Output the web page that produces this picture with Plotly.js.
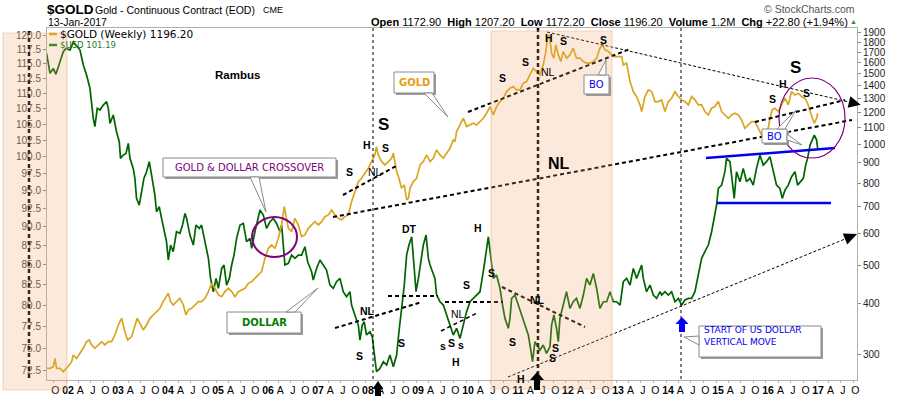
<!DOCTYPE html>
<html><head><meta charset="utf-8">
<script src="https://cdn.plot.ly/plotly-3.0.1.min.js"></script>
<style>html,body{margin:0;padding:0;background:#fff}#chart{width:900px;height:396px}</style>
</head><body><div id="chart"></div>
<script>
// ---------------- DATA (decimal year, value) ----------------
const usdTime = [2001.613,2001.68,2001.747,2001.80,2001.88,2001.947,2002.0,2002.08,2002.147,2002.227,2002.28,2002.347,2002.413,2002.48,2002.513,2002.547,2002.58,2002.627,2002.68,2002.747,2002.813,2002.847,2002.88,2002.947,2003.013,2003.067,2003.093,2003.147,2003.20,2003.247,2003.28,2003.347,2003.38,2003.413,2003.467,2003.513,2003.56,2003.613,2003.667,2003.713,2003.78,2003.813,2003.867,2003.913,2003.96,2004.013,2004.047,2004.093,2004.147,2004.213,2004.28,2004.333,2004.38,2004.413,2004.48,2004.547,2004.60,2004.667,2004.713,2004.78,2004.847,2004.893,2004.947,2005.0,2005.047,2005.113,2005.16,2005.213,2005.267,2005.313,2005.36,2005.413,2005.48,2005.547,2005.613,2005.68,2005.713,2005.78,2005.88,2005.947,2006.013,2006.08,2006.147,2006.213,2006.28,2006.313,2006.347,2006.38,2006.447,2006.513,2006.58,2006.647,2006.713,2006.78,2006.833,2006.913,2006.947,2007.013,2007.08,2007.147,2007.213,2007.28,2007.347,2007.413,2007.48,2007.547,2007.613,2007.68,2007.713,2007.78,2007.847,2007.88,2007.927,2007.967,2008.013,2008.08,2008.127,2008.18,2008.213,2008.28,2008.347,2008.413,2008.48,2008.547,2008.613,2008.66,2008.713,2008.767,2008.813,2008.86,2008.913,2008.96,2009.0,2009.047,2009.10,2009.147,2009.20,2009.247,2009.28,2009.327,2009.38,2009.413,2009.48,2009.547,2009.613,2009.68,2009.747,2009.78,2009.813,2009.88,2009.947,2010.013,2010.08,2010.147,2010.213,2010.28,2010.347,2010.40,2010.447,2010.493,2010.547,2010.613,2010.68,2010.733,2010.78,2010.847,2010.88,2010.913,2010.98,2011.047,2011.113,2011.18,2011.247,2011.293,2011.333,2011.38,2011.427,2011.48,2011.547,2011.613,2011.68,2011.713,2011.76,2011.813,2011.847,2011.88,2011.947,2012.013,2012.08,2012.147,2012.213,2012.28,2012.347,2012.413,2012.48,2012.547,2012.613,2012.68,2012.747,2012.813,2012.88,2012.947,2013.013,2013.08,2013.147,2013.213,2013.28,2013.347,2013.413,2013.513,2013.547,2013.613,2013.68,2013.747,2013.813,2013.88,2013.913,2013.98,2014.047,2014.113,2014.18,2014.247,2014.313,2014.38,2014.447,2014.513,2014.58,2014.647,2014.713,2014.78,2014.847,2014.913,2014.967,2015.013,2015.047,2015.113,2015.18,2015.213,2015.28,2015.327,2015.367,2015.413,2015.48,2015.547,2015.613,2015.68,2015.747,2015.813,2015.88,2015.947,2016.013,2016.08,2016.147,2016.213,2016.28,2016.327,2016.38,2016.447,2016.513,2016.58,2016.633,2016.70,2016.747,2016.793,2016.833,2016.88,2016.927,2016.967,2017.013,2017.035];
const usdValue = [116.79,113.33,114.18,113.16,115.33,117.08,117.67,117.37,118.8,117.9,117.37,114.76,113.05,110.80,108.06,105.92,104.60,107.52,107.25,108.06,108.60,107.52,105.12,106.45,103.81,102.26,99.74,100.24,100.49,102.01,99.74,98.25,96.78,93.92,92.98,94.86,96.78,97.76,99.24,97.27,94.39,92.05,92.75,91.14,89.78,88.00,85.61,87.56,86.69,89.33,89.11,90.23,91.82,91.14,88.88,87.56,90.23,89.78,90.23,88.00,85.82,83.28,81.63,83.28,82.04,84.54,84.97,82.45,83.28,84.97,86.25,88.44,90.23,90.45,88.00,88.44,87.12,89.33,92.29,91.60,89.78,90.68,91.14,90.45,89.33,90.23,88.00,84.97,85.18,86.25,85.82,86.25,86.25,87.34,85.39,84.12,83.07,84.54,85.61,84.97,84.33,82.45,82.04,82.87,83.28,81.63,81.02,81.63,80.01,78.82,77.64,75.91,77.64,78.03,76.49,76.87,76.30,73.85,72.39,72.75,73.48,73.12,74.22,72.93,74.22,76.87,79.22,82.45,86.25,87.56,88.66,84.97,81.63,83.28,85.82,87.56,88.88,85.82,84.97,84.12,83.28,81.22,80.41,80.01,78.82,77.64,76.49,76.87,77.26,76.10,77.64,79.22,80.41,80.82,81.22,81.63,84.12,86.69,88.66,86.25,83.28,83.70,82.04,80.01,78.43,77.26,78.43,80.82,81.22,80.01,78.82,77.64,76.49,74.97,73.48,75.72,75.35,74.78,75.35,74.41,75.16,77.64,78.82,77.26,75.72,78.43,80.01,81.63,79.61,80.41,80.82,79.61,81.22,83.28,82.45,83.91,82.04,79.61,80.41,80.41,81.63,80.41,80.41,80.01,82.87,83.28,82.45,84.54,83.28,84.97,83.28,81.63,82.45,81.22,80.82,81.63,81.22,81.63,81.22,81.63,80.41,80.82,80.01,80.62,80.82,80.82,81.63,83.70,85.82,86.69,87.56,89.33,91.14,92.98,95.33,95.81,97.76,99.74,99.24,95.81,93.92,97.76,96.30,98.25,96.30,96.78,95.81,98.25,100.24,98.74,99.24,99.98,97.76,95.81,95.33,93.92,95.09,95.81,97.02,97.76,95.81,96.30,96.78,98.74,99.74,101.75,102.77,103.28,102.52,101.19];

const goldTime = [2001.613,2001.68,2001.747,2001.78,2001.813,2001.88,2001.947,2002.013,2002.067,2002.113,2002.147,2002.213,2002.28,2002.347,2002.413,2002.467,2002.513,2002.58,2002.647,2002.713,2002.78,2002.847,2002.913,2002.98,2003.047,2003.113,2003.18,2003.233,2003.313,2003.38,2003.427,2003.48,2003.547,2003.613,2003.68,2003.747,2003.813,2003.88,2003.947,2004.013,2004.047,2004.093,2004.147,2004.213,2004.28,2004.347,2004.40,2004.447,2004.513,2004.58,2004.647,2004.713,2004.78,2004.847,2004.913,2004.98,2005.047,2005.113,2005.18,2005.247,2005.313,2005.38,2005.447,2005.513,2005.58,2005.647,2005.713,2005.78,2005.847,2005.913,2005.98,2006.047,2006.113,2006.18,2006.247,2006.313,2006.367,2006.413,2006.447,2006.513,2006.58,2006.647,2006.713,2006.78,2006.847,2006.913,2006.98,2007.047,2007.113,2007.18,2007.247,2007.313,2007.38,2007.447,2007.513,2007.58,2007.647,2007.713,2007.78,2007.847,2007.913,2007.98,2008.047,2008.113,2008.18,2008.213,2008.247,2008.313,2008.38,2008.447,2008.513,2008.547,2008.58,2008.613,2008.66,2008.713,2008.767,2008.813,2008.847,2008.88,2008.947,2009.013,2009.08,2009.147,2009.213,2009.28,2009.347,2009.413,2009.48,2009.547,2009.613,2009.68,2009.747,2009.78,2009.813,2009.88,2009.947,2010.013,2010.08,2010.147,2010.213,2010.28,2010.347,2010.413,2010.48,2010.547,2010.613,2010.68,2010.747,2010.813,2010.88,2010.947,2011.013,2011.08,2011.147,2011.213,2011.28,2011.347,2011.413,2011.48,2011.547,2011.60,2011.633,2011.667,2011.713,2011.76,2011.80,2011.847,2011.90,2011.947,2012.013,2012.08,2012.147,2012.213,2012.28,2012.347,2012.413,2012.48,2012.547,2012.613,2012.68,2012.733,2012.78,2012.847,2012.913,2012.98,2013.047,2013.113,2013.147,2013.213,2013.28,2013.347,2013.413,2013.48,2013.513,2013.58,2013.647,2013.713,2013.78,2013.847,2013.913,2013.98,2014.047,2014.113,2014.18,2014.247,2014.313,2014.38,2014.447,2014.513,2014.58,2014.647,2014.713,2014.78,2014.847,2014.913,2014.98,2015.047,2015.113,2015.18,2015.247,2015.313,2015.38,2015.447,2015.513,2015.58,2015.647,2015.713,2015.78,2015.847,2015.913,2015.98,2016.047,2016.08,2016.127,2016.18,2016.247,2016.313,2016.38,2016.447,2016.513,2016.58,2016.647,2016.713,2016.78,2016.833,2016.88,2016.927,2016.967,2017.013,2017.035];
const goldValue = [276.3,276.3,279.0,292.6,276.3,276.3,271.1,276.3,281.7,287.1,298.3,292.6,301.2,310.0,322.1,325.2,316.0,310.0,316.0,322.1,316.0,322.1,322.1,334.6,354.4,368.3,341.1,325.2,331.5,354.4,368.3,357.8,344.4,354.4,368.3,375.4,382.7,390.1,405.3,417.1,425.2,405.3,397.6,405.3,413.1,397.6,375.4,386.3,390.1,397.6,405.3,405.3,413.1,429.3,450.3,437.6,421.1,417.1,429.3,437.6,429.3,417.1,429.3,433.4,437.6,450.3,454.6,463.4,472.4,481.5,519.9,550.7,561.3,550.7,583.2,629.7,699.6,654.3,617.7,606.0,654.3,629.7,588.8,594.5,617.7,629.7,641.8,629.7,641.8,660.6,666.9,686.4,666.9,654.3,648.0,660.6,666.9,720.0,762.6,807.7,823.3,847.4,872.1,906.1,941.5,987.7,941.5,906.1,888.9,906.1,923.6,950.6,906.1,855.5,823.3,777.4,792.4,727.0,734.0,777.4,807.7,823.3,888.9,906.1,941.5,906.1,923.6,969.0,941.5,923.6,950.6,978.3,1026.3,1016.5,1076.6,1118.7,1162.4,1108.0,1118.7,1129.5,1118.7,1140.3,1162.4,1196.3,1243.0,1184.9,1243.0,1279.3,1304.0,1354.9,1381.1,1394.4,1368.0,1368.0,1421.4,1435.1,1491.1,1549.4,1520.0,1491.1,1579.3,1705.1,1840.9,1876.5,1688.8,1641.0,1771.7,1672.7,1609.9,1705.1,1641.0,1672.7,1738.1,1641.0,1641.0,1609.9,1594.5,1594.5,1609.9,1641.0,1738.1,1771.7,1721.5,1705.1,1672.7,1656.8,1656.8,1656.8,1579.3,1594.5,1435.1,1354.9,1316.6,1255.0,1207.8,1316.6,1368.0,1354.9,1279.3,1279.3,1291.6,1207.8,1279.3,1304.0,1354.9,1316.6,1291.6,1279.3,1255.0,1316.6,1291.6,1255.0,1255.0,1207.8,1184.9,1231.2,1243.0,1279.3,1207.8,1184.9,1162.4,1184.9,1196.3,1184.9,1151.3,1097.5,1118.7,1140.3,1140.3,1097.5,1056.2,1076.6,1097.5,1162.4,1219.4,1231.2,1207.8,1255.0,1304.0,1255.0,1354.9,1329.2,1342.0,1316.6,1304.0,1267.1,1207.8,1162.4,1129.5,1162.4,1196.2];

const usdTicks = [72.5,75,77.5,80,82.5,85,87.5,90,92.5,95,97.5,100,102.5,105,107.5,110,112.5,115,117.5,120];
const goldTicks = [300,400,500,600,700,800,900,1000,1100,1200,1300,1400,1500,1600,1700,1800,1900];
const tickYears = [2001,2002,2003,2004,2005,2006,2007,2008,2009,2010,2011,2012,2013,2014,2015,2016,2017];
const monthLetters = {0:null,3:'A',6:'J',9:'O'};

// ---------------- helpers ----------------
function decDate(d){const y=Math.floor(d);const s=Date.UTC(y,0,1),e=Date.UTC(y+1,0,1);return new Date(s+(d-y)*(e-s)).toISOString().slice(0,10);}
const L=47,R=857,T=28,B=380;
const px=x=>(x-L)/(R-L), py=y=>(B-y)/(B-T);
const shapes=[], annos=[];
function seg(x0,y0,x1,y1,color,width,dash){shapes.push({type:'line',xref:'paper',yref:'paper',layer:'above',x0:px(x0),y0:py(y0),x1:px(x1),y1:py(y1),line:{color:color,width:width,dash:dash||'solid'}});}
function poly(pts,fill,lc,lw){shapes.push({type:'path',xref:'paper',yref:'paper',layer:'above',path:'M '+pts.map(p=>px(p[0]).toFixed(5)+','+py(p[1]).toFixed(5)).join(' L ')+' Z',fillcolor:fill,line:{color:lc||fill,width:lw===undefined?0:lw}});}
function rect(x0,y0,x1,y1,fill,lc,lw){shapes.push({type:'rect',xref:'paper',yref:'paper',layer:'above',x0:px(x0),y0:py(y0),x1:px(x1),y1:py(y1),fillcolor:fill,line:{color:lc,width:lw}});}
function ell(x0,y0,x1,y1,lc,lw){shapes.push({type:'circle',xref:'paper',yref:'paper',layer:'above',x0:px(x0),y0:py(y0),x1:px(x1),y1:py(y1),fillcolor:'rgba(0,0,0,0)',line:{color:lc,width:lw}});}
function txt(x,y,text,size,color,opts){opts=opts||{};annos.push({xref:'paper',yref:'paper',x:px(x),y:py(y),text:text,showarrow:false,xanchor:opts.anchor||'center',yanchor:'middle',align:opts.align||'center',borderpad:0,font:{size:size,color:color||'#000',family:opts.family||'Liberation Sans, Arial, sans-serif'}});}
function arrowHead(x0,y0,x1,y1,len,half){const dx=x1-x0,dy=y1-y0,d=Math.hypot(dx,dy),ux=dx/d,uy=dy/d;const tip=[x1+ux*len,y1+uy*len];poly([tip,[x1-uy*half,y1+ux*half],[x1+uy*half,y1-ux*half]],'#000');}
function callout(x0,y0,x1,y1,ptr){rect(x0+2,y0+2,x1+2,y1+2,'#9a9a9a','#9a9a9a',0);rect(x0,y0,x1,y1,'#ffffff','#8a8a8a',1);(ptr||[]).forEach(p=>poly(p,'#ffffff','#8a8a8a',1));}

// ---------------- drawings under the shaded zones ----------------
const DASH='4px,3px', THIN='3px,3px';
seg(373,28,373,380,'#000',1,THIN);
seg(538,28,538,380,'#000',2.5,DASH);
seg(681,28,681,380,'#000',1,THIN);
seg(29,31,29,380,'#000',2.5,DASH);
seg(333,217,852,120,'#000',2,DASH);      // gold long-term NL
seg(343,195,398,165,'#000',2,DASH);      // small gold NL
seg(468,112,630,49,'#000',2,DASH);       // 2011-13 gold NL
seg(547,32,849,102,'#000',1,'3px,2px');  // gold downtrend
arrowHead(547,32,849,102,12,6);
seg(755,122,845,100,'#000',2,DASH);      // recent gold NL
seg(335,328,422,302,'#000',2,DASH);      // dollar NL
seg(388,296,438,296,'#000',2,DASH);      // DT neckline
seg(445,302,503,302,'#000',2,DASH);
seg(441,331,477,313,'#000',1.5,DASH);    // small dollar NL
seg(502,287,585,327,'#000',2,DASH);      // dollar down NL
seg(508,377,845,239,'#000',1,'3px,2px'); // dollar uptrend
arrowHead(508,377,845,239,13,6);

// shaded time zones
rect(3,33,67,390,'rgba(240,168,105,0.24)','rgba(240,180,130,0.5)',1.2);
rect(491,31,612,389,'rgba(240,168,105,0.24)','rgba(240,180,130,0.5)',1.2);

// blue channel
seg(706,158,835,148,'#0000ee',2.5);
seg(717,203,831,203,'#0000ee',2.5);
// circles
ell(252,217,297,257,'#800080',2);
ell(779,78,845,158,'#800080',1.2);
// arrows
poly([[679,332],[679,324],[675.5,324],[682,317],[688.5,324],[685,324],[685,332]],'#0000ee');
poly([[375,396],[375,389],[372.5,389],[378,381],[383.5,389],[381,389],[381,396]],'#000');
poly([[534,390],[534,380],[530,380],[537,372],[544,380],[540,380],[540,390]],'#000');

// callouts
callout(163,158,336,177,[[[250,177],[266,212],[259,177]]]);
callout(227,312,301,333,[[[286,312],[318,288],[295,312]]]);
callout(394,72,434,93,[[[424,93],[448,117],[432,93]]]);
callout(584,75,609,94,[[[598,75],[606,60],[606,75]]]);
callout(762,129,787,143,[[[777,129],[796,110],[785,129]],[[787,134],[802,145],[787,140]]]);
callout(699,326,821,357,[[[699,336],[684,337],[699,345]]]);

// legend marks
seg(49,34,57,34,'#daa520',2.5);
seg(49,45,57,45,'#3c8c28',2.5);

// ---------------- texts ----------------
const DJ='DejaVu Sans, Verdana, sans-serif';
txt(46,9,'<b>$GOLD</b>',13.5,'#000',{anchor:'left'});
txt(94,9.5,'Gold - Continuous Contract (EOD)',10.5,'#000',{anchor:'left'});
txt(262,10,'CME',9,'#000',{anchor:'left'});
txt(47,22,'13-Jan-2017',10.5,'#000',{anchor:'left'});
const S2='\u00a0\u00a0';
txt(849,22,'<b>Open</b> 1172.90'+S2+'<b>High</b> 1207.20'+S2+'<b>Low</b> 1172.20'+S2+'<b>Close</b> 1196.20'+S2+'<b>Volume</b> 1.2M'+S2+'<b>Chg</b> +22.80 (+1.94%)',11,'#000',{anchor:'right'});
txt(853,22,'▲',7,'#2e8b2e');
txt(856,9,'© StockCharts.com',10.5,'#555',{anchor:'right'});
txt(59,34.5,'$GOLD (Weekly) 1196.20',10.5,'#000',{anchor:'left',family:DJ});
txt(59,45.5,'$USD 101.19',8.5,'#2b7a1e',{anchor:'left',family:DJ});

txt(237,75,'<b>Rambus</b>',11.5);
txt(249.5,167.5,'GOLD &amp; DOLLAR CROSSOVER',10,'#800080',{family:DJ});
txt(264,322.5,'<b>DOLLAR</b>',10,'#008000',{family:DJ});
txt(414,82.5,'<b>GOLD</b>',10,'#e89a10',{family:DJ});
txt(596.5,84.5,'BO',10,'#0000ee',{family:DJ});
txt(774.5,136,'BO',10,'#0000ee',{family:DJ});
txt(703,335.5,'START OF US DOLLAR<br>VERTICAL MOVE',9,'#0000ee',{anchor:'left',align:'left',family:DJ});

const B10=(x,y,t)=>txt(x,y,'<b>'+t+'</b>',10.5);
txt(383,124,'<b>S</b>',17);
B10(367,145,'H'); B10(385,148,'S'); B10(349,172,'S');
txt(375,172,'NL',10.5);
txt(559,163,'<b>NL</b>',16);
B10(367,311,'NL'); B10(409,229,'DT');
B10(359,356,'S'); B10(401,343,'S');
B10(443,346,'s'); B10(451,343,'S'); B10(461,345,'s');
txt(458,314,'NL',10.5);
B10(456,362,'H'); B10(478,228,'H'); B10(466,285,'S'); B10(491,273,'S');
B10(537,300,'NL'); B10(512,342,'S'); B10(555,348,'S'); B10(552,358,'S'); B10(521,379,'H');
B10(502,78,'S'); B10(525,62,'S'); txt(548,72,'NL',10.5); B10(549,38,'H'); B10(563,41,'S'); B10(603,40,'S');
txt(795,67,'<b>S</b>',17);
B10(783,84,'H'); B10(772,99,'S'); B10(806,93,'S');

// ---------------- axes ----------------
const tickVals=[], tickText=[];
tickYears.forEach(y=>{[0,3,6,9].forEach(m=>{const dec=y+m/12; if(dec<2001.62||dec>2017.82) return; tickVals.push(y+'-'+String(m+1).padStart(2,'0')+'-01'); tickText.push(m===0?'<b>'+String(y).slice(2)+'</b>':monthLetters[m]);});});

const traces=[
 {x:usdTime.map(decDate),y:usdValue,type:'scatter',mode:'lines',name:'$USD',line:{color:'#006400',width:1.7},yaxis:'y',hoverinfo:'skip'},
 {x:goldTime.map(decDate),y:goldValue,type:'scatter',mode:'lines',name:'$GOLD',line:{color:'#daa520',width:1.7},yaxis:'y2',hoverinfo:'skip'}
];
const layout={
 width:900,height:396,margin:{l:47,r:43,t:28,b:16},paper_bgcolor:'#fff',plot_bgcolor:'#fff',showlegend:false,
 font:{family:'Liberation Sans, Arial, sans-serif',size:11,color:'#000'},
 xaxis:{type:'date',range:[decDate(2001.62),decDate(2017.82)],tickmode:'array',tickvals:tickVals,ticktext:tickText,tickangle:0,showgrid:false,zeroline:false,showline:true,linecolor:'#b0b0b0',mirror:true,ticks:'outside',ticklen:2,tickcolor:'#b0b0b0',tickfont:{size:10.5,color:'#000'},ticklabelshift:2,ticklabelstandoff:-2},
 yaxis:{type:'log',range:[Math.log10(71.49),Math.log10(121.32)],tickmode:'array',tickvals:usdTicks,ticktext:usdTicks.map(v=>v.toFixed(1)),showgrid:false,zeroline:false,showline:true,linecolor:'#b0b0b0',ticks:'outside',ticklen:3,tickcolor:'#888',tickfont:{size:10,color:'#444'}},
 yaxis2:{type:'log',overlaying:'y',side:'right',range:[Math.log10(258.4),Math.log10(1952)],tickmode:'array',tickvals:goldTicks,ticktext:goldTicks.map(String),showgrid:false,zeroline:false,showline:true,linecolor:'#b0b0b0',ticks:'outside',ticklen:3,tickcolor:'#888',tickfont:{size:10,color:'#222'}},
 shapes:shapes,annotations:annos
};
Plotly.newPlot('chart',traces,layout,{displayModeBar:false,staticPlot:true});
</script></body></html>
